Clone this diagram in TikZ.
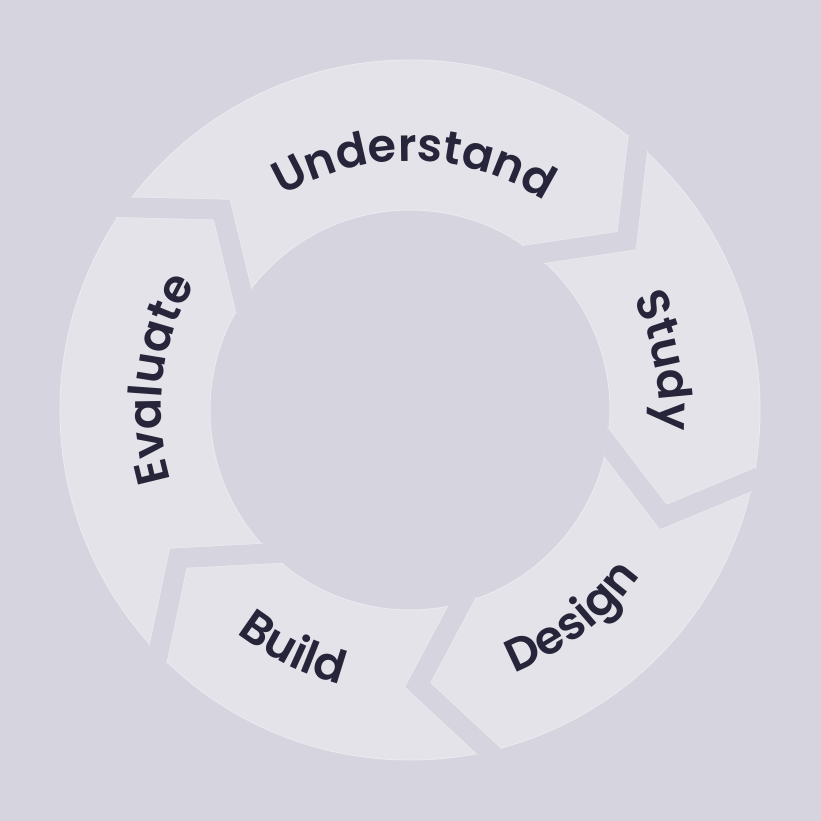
\documentclass[tikz,border=0pt]{standalone}
\usepackage{fontspec}
\newfontfamily\lblfont{Poppins SemiBold}
\usetikzlibrary{calc,decorations.text}
\definecolor{pagebg}{HTML}{D5D4DF}
\definecolor{ringfill}{HTML}{E4E3EA}
\definecolor{ringline}{HTML}{EAE9EF}
\definecolor{ink}{HTML}{27253A}
\newcommand{\lbl}{\lblfont\fontsize{46}{50}\selectfont\color{ink}}

\begin{document}
\begin{tikzpicture}[x=1pt,y=1pt]
	\tikzstyle{gapband}=[draw=ringline, line width=0.8pt, double=pagebg, double distance=20pt, line join=miter]
	\tikzstyle{ringlabel}=[decorate]
	
	\fill[pagebg] (-410,-411) rectangle (411,410);
	\useasboundingbox (-410,-411) rectangle (411,410);
	\coordinate (O) at (0,0);
	
	% the ring
	\fill[ringfill, even odd rule] (O) circle (350) (O) circle (200);
	\draw[ringline, line width=1pt] (O) circle (350) (O) circle (200);
	
	% gaps between the steps
	\begin{scope}
		\clip (0:351.5) arc[start angle=0, end angle=360, radius=351.5] -- (0:198.5) arc[start angle=360, end angle=0, radius=198.5] -- cycle;
		\foreach \t [count=\k] in {47.4,-13.5,-79,-138,142.6} {
			\coordinate (out\k) at ({\t+2}:350);
			\coordinate (mid\k) at ({\t-9.4}:275);
			\coordinate (in\k) at ({\t+3.8}:200);
			\draw[gapband] ($(mid\k)!1.35!(out\k)$) -- (mid\k) -- ($(mid\k)!1.45!(in\k)$);
		}
	\end{scope}
	
	% labels
	\path[ringlabel, decoration={text along path, text align=center, text={|\lbl|Understand}}]
		(159:249) arc[start angle=159, end angle=19, radius=249];
	\path[ringlabel, decoration={text along path, text align=center, text={|\lbl|Study}}]
		(81:249) arc[start angle=81, end angle=-59, radius=249];
	\path[ringlabel, decoration={text along path, text align=center, text={|\lbl|Design}}]
		(-122:283) arc[start angle=-122, end angle=18, radius=283];
	\path[ringlabel, decoration={text along path, text align=center, text={|\lbl|Build}}]
		(-186:283) arc[start angle=-186, end angle=-46, radius=283];
	\path[ringlabel, decoration={text along path, text align=center, text={|\lbl|Evaluate}}]
		(243:249) arc[start angle=243, end angle=103, radius=249];
	
\end{tikzpicture}
\end{document}
